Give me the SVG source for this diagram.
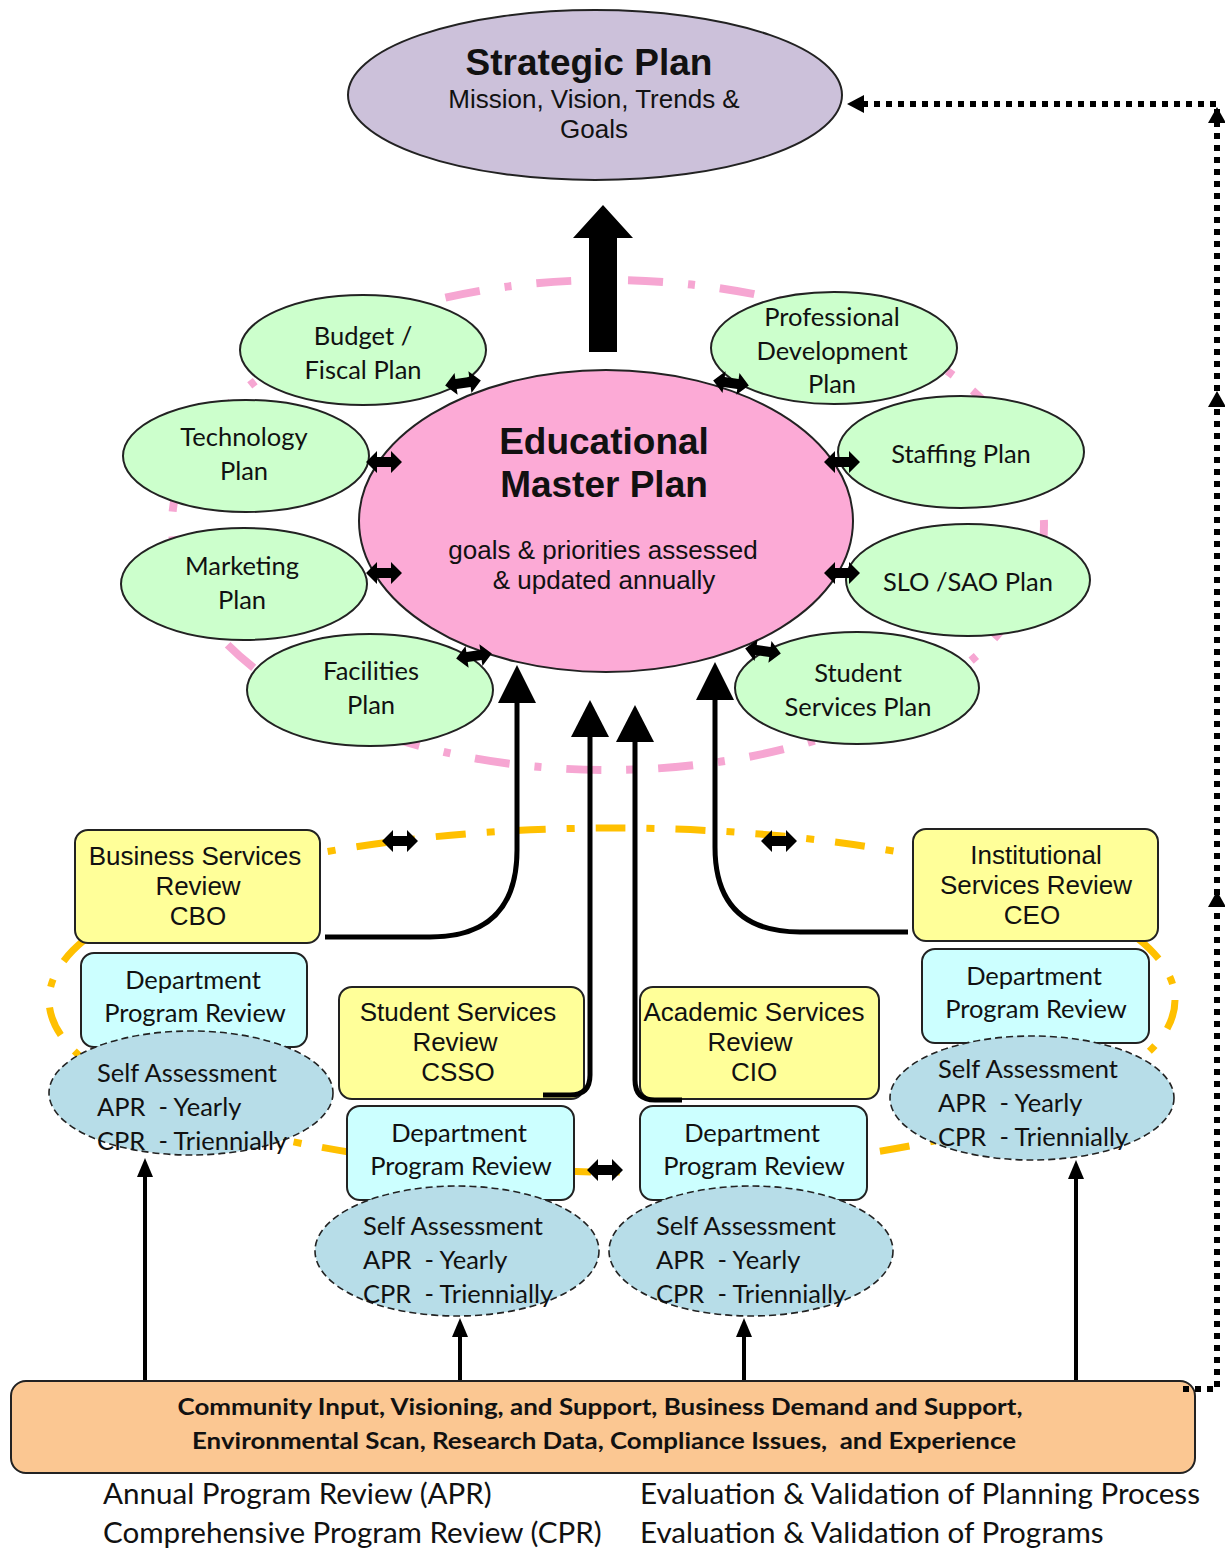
<svg xmlns="http://www.w3.org/2000/svg" width="1225" height="1550" viewBox="0 0 1225 1550">
<style>
.sans{font-family:"Liberation Sans",Arial,sans-serif;fill:#111}
.cal{font-family:Lato,"Open Sans",sans-serif;fill:#111}
.pre{white-space:pre}
.green{fill:#ccffcc;stroke:#222;stroke-width:2}
.yel{fill:#ffff99;stroke:#222;stroke-width:2}
.cyan{fill:#ccffff;stroke:#222;stroke-width:2}
.blue{fill:#b7dde8;stroke:#222;stroke-width:1.6;stroke-dasharray:7 4}
.thick{fill:none;stroke:#000;stroke-width:5}
.thin{fill:none;stroke:#000;stroke-width:4}
.dot{fill:none;stroke:#000;stroke-width:6;stroke-dasharray:6 6}
</style>
<defs>
<path id="dbl" d="M-18,0 L-7,-11 L-7,-5 L7,-5 L7,-11 L18,0 L7,11 L7,5 L-7,5 L-7,11 Z" fill="#000"/>
</defs>

<!-- background dashed rings -->
<g id="rings">
<ellipse cx="608" cy="525" rx="436" ry="245" fill="none" stroke="#f6a6d2" stroke-width="8" stroke-dasharray="35 25 7 25"/>
<ellipse cx="612" cy="1000" rx="563" ry="172" fill="none" stroke="#ffc000" stroke-width="7" stroke-dasharray="30 21 8 21"/>
</g>

<g id="strategic">
<ellipse cx="595" cy="95" rx="247" ry="85" fill="#ccc1da" stroke="#222" stroke-width="2"/>
<text class="sans" x="589" y="75" font-size="37" font-weight="bold" text-anchor="middle">Strategic Plan</text>
<text class="sans" x="594" y="108" font-size="26" text-anchor="middle">Mission, Vision, Trends &amp;</text>
<text class="sans" x="594" y="138" font-size="26" text-anchor="middle">Goals</text>
</g>

<g id="emp">
<ellipse cx="606" cy="521" rx="247" ry="151" fill="#fcaad6" stroke="#222" stroke-width="2"/>
<text class="sans" x="604" y="454" font-size="37" font-weight="bold" text-anchor="middle">Educational</text>
<text class="sans" x="604" y="497" font-size="37" font-weight="bold" text-anchor="middle">Master Plan</text>
<text class="sans" x="603" y="559" font-size="26" text-anchor="middle">goals &amp; priorities assessed</text>
<text class="sans" x="604" y="589" font-size="26" text-anchor="middle">&amp; updated annually</text>
</g>

<g id="budget"><ellipse class="green" cx="363" cy="350" rx="123" ry="55"/>
<text class="cal" x="363" y="345" font-size="25.5" text-anchor="middle">Budget /</text>
<text class="cal" x="363" y="379" font-size="25.5" text-anchor="middle">Fiscal Plan</text></g>
<g id="technology"><ellipse class="green" cx="246" cy="456" rx="123" ry="56"/>
<text class="cal" x="244" y="446" font-size="25.5" text-anchor="middle">Technology</text>
<text class="cal" x="244" y="480" font-size="25.5" text-anchor="middle">Plan</text></g>
<g id="marketing"><ellipse class="green" cx="244" cy="584" rx="123" ry="56"/>
<text class="cal" x="242" y="575" font-size="25.5" text-anchor="middle">Marketing</text>
<text class="cal" x="242" y="609" font-size="25.5" text-anchor="middle">Plan</text></g>
<g id="facilities"><ellipse class="green" cx="370" cy="690" rx="123" ry="56"/>
<text class="cal" x="371" y="680" font-size="25.5" text-anchor="middle">Facilities</text>
<text class="cal" x="371" y="714" font-size="25.5" text-anchor="middle">Plan</text></g>
<g id="profdev"><ellipse class="green" cx="834" cy="348" rx="123" ry="56"/>
<text class="cal" x="832" y="326" font-size="25.5" text-anchor="middle">Professional</text>
<text class="cal" x="832" y="360" font-size="25.5" text-anchor="middle">Development</text>
<text class="cal" x="832" y="393" font-size="25.5" text-anchor="middle">Plan</text></g>
<g id="staffing"><ellipse class="green" cx="961" cy="452" rx="123" ry="56"/>
<text class="cal" x="961" y="463" font-size="25.5" text-anchor="middle">Staffing Plan</text></g>
<g id="slo"><ellipse class="green" cx="968" cy="580" rx="122" ry="56"/>
<text class="cal" x="968" y="591" font-size="25.5" text-anchor="middle">SLO /SAO Plan</text></g>
<g id="studentplan"><ellipse class="green" cx="857" cy="688" rx="122" ry="56"/>
<text class="cal" x="858" y="682" font-size="25.5" text-anchor="middle">Student</text>
<text class="cal" x="858" y="716" font-size="25.5" text-anchor="middle">Services Plan</text></g>

<!-- review boxes -->
<g id="cbo"><rect class="yel" x="75" y="830" width="245" height="113" rx="13"/>
<text class="sans" x="195" y="865" font-size="26" text-anchor="middle">Business Services</text>
<text class="sans" x="198" y="895" font-size="26" text-anchor="middle">Review</text>
<text class="sans" x="198" y="925" font-size="26" text-anchor="middle">CBO</text></g>
<g id="ceo"><rect class="yel" x="913" y="829" width="245" height="112" rx="13"/>
<text class="sans" x="1036" y="864" font-size="26" text-anchor="middle">Institutional</text>
<text class="sans" x="1036" y="894" font-size="26" text-anchor="middle">Services Review</text>
<text class="sans" x="1032" y="924" font-size="26" text-anchor="middle">CEO</text></g>
<g id="csso"><rect class="yel" x="339" y="987" width="245" height="112" rx="13"/>
<text class="sans" x="458" y="1021" font-size="26" text-anchor="middle">Student Services</text>
<text class="sans" x="455" y="1051" font-size="26" text-anchor="middle">Review</text>
<text class="sans" x="458" y="1081" font-size="26" text-anchor="middle">CSSO</text></g>
<g id="cio"><rect class="yel" x="640" y="987" width="239" height="112" rx="13"/>
<text class="sans" x="754" y="1021" font-size="26" text-anchor="middle">Academic Services</text>
<text class="sans" x="750" y="1051" font-size="26" text-anchor="middle">Review</text>
<text class="sans" x="754" y="1081" font-size="26" text-anchor="middle">CIO</text></g>

<g id="dept1"><rect class="cyan" x="81" y="953" width="226" height="94" rx="13"/>
<text class="cal" x="193" y="989" font-size="25.5" text-anchor="middle">Department</text>
<text class="cal" x="195" y="1022" font-size="25.5" text-anchor="middle">Program Review</text></g>
<g id="dept4"><rect class="cyan" x="922" y="949" width="227" height="94" rx="13"/>
<text class="cal" x="1034" y="985" font-size="25.5" text-anchor="middle">Department</text>
<text class="cal" x="1036" y="1018" font-size="25.5" text-anchor="middle">Program Review</text></g>
<g id="dept2"><rect class="cyan" x="347" y="1106" width="227" height="94" rx="13"/>
<text class="cal" x="459" y="1142" font-size="25.5" text-anchor="middle">Department</text>
<text class="cal" x="461" y="1175" font-size="25.5" text-anchor="middle">Program Review</text></g>
<g id="dept3"><rect class="cyan" x="640" y="1106" width="227" height="94" rx="13"/>
<text class="cal" x="752" y="1142" font-size="25.5" text-anchor="middle">Department</text>
<text class="cal" x="754" y="1175" font-size="25.5" text-anchor="middle">Program Review</text></g>

<g id="self1"><ellipse class="blue" cx="191" cy="1093" rx="142" ry="62"/>
<text class="cal pre" font-size="25.5"><tspan x="97" y="1082">Self Assessment</tspan><tspan x="97" y="1116">APR  - Yearly</tspan><tspan x="97" y="1150">CPR  - Triennially</tspan></text></g>
<g id="self4"><ellipse class="blue" cx="1032" cy="1098" rx="142" ry="62"/>
<text class="cal pre" font-size="25.5"><tspan x="938" y="1078">Self Assessment</tspan><tspan x="938" y="1112">APR  - Yearly</tspan><tspan x="938" y="1146">CPR  - Triennially</tspan></text></g>
<g id="self2"><ellipse class="blue" cx="457" cy="1251" rx="142" ry="65"/>
<text class="cal pre" font-size="25.5"><tspan x="363" y="1235">Self Assessment</tspan><tspan x="363" y="1269">APR  - Yearly</tspan><tspan x="363" y="1303">CPR  - Triennially</tspan></text></g>
<g id="self3"><ellipse class="blue" cx="751" cy="1251" rx="142" ry="65"/>
<text class="cal pre" font-size="25.5"><tspan x="656" y="1235">Self Assessment</tspan><tspan x="656" y="1269">APR  - Yearly</tspan><tspan x="656" y="1303">CPR  - Triennially</tspan></text></g>

<g id="community"><rect x="11" y="1381" width="1184" height="92" rx="15" fill="#fbc792" stroke="#222" stroke-width="2"/>
<text class="cal" x="600" y="1415" font-size="22" font-weight="bold" text-anchor="middle" textLength="845" lengthAdjust="spacingAndGlyphs">Community Input, Visioning, and Support, Business Demand and Support,</text>
<text class="cal pre" x="604" y="1449" font-size="22" font-weight="bold" text-anchor="middle" textLength="824" lengthAdjust="spacingAndGlyphs">Environmental Scan, Research Data, Compliance Issues,  and Experience</text></g>

<g id="legend">
<text class="cal" x="103" y="1504" font-size="29.6">Annual Program Review (APR)</text>
<text class="cal" x="103" y="1543" font-size="29.6">Comprehensive Program Review (CPR)</text>
<text class="cal" x="640" y="1504" font-size="29.6">Evaluation &amp; Validation of Planning Process</text>
<text class="cal" x="640" y="1543" font-size="29.6">Evaluation &amp; Validation of Programs</text>
</g>

<g id="connectors">
<!-- big arrow to strategic plan -->
<polygon points="589,352 617,352 617,238 633,238 603,205 573,238 589,238" fill="#000"/>
<!-- curved arrows into EMP -->
<path class="thick" d="M325,937 H430 Q517,937 517,850 V700"/>
<polygon points="517,665 536,703 498,703" fill="#000"/>
<path class="thick" d="M543,1095 H570 Q590,1095 590,1075 V735" stroke-width="6"/>
<polygon points="590,700 609,737 571,737" fill="#000"/>
<path class="thick" d="M682,1100 H655 Q635,1100 635,1080 V740" stroke-width="6"/>
<polygon points="635,705 654,742 616,742" fill="#000"/>
<path class="thick" d="M908,932 H800 Q715,932 715,847 V697"/>
<polygon points="715,662 734,700 696,700" fill="#000"/>
<!-- thin up arrows from community box -->
<path class="thin" d="M145,1380 V1175"/><polygon points="145,1158 153,1177 137,1177" fill="#000"/>
<path class="thin" d="M460,1380 V1335"/><polygon points="460,1318 468,1337 452,1337" fill="#000"/>
<path class="thin" d="M744,1380 V1335"/><polygon points="744,1318 752,1337 736,1337" fill="#000"/>
<path class="thin" d="M1076,1380 V1177"/><polygon points="1076,1160 1084,1179 1068,1179" fill="#000"/>
<!-- double arrows -->
<use href="#dbl" transform="translate(463,383) rotate(-8)"/>
<use href="#dbl" transform="translate(384,462)"/>
<use href="#dbl" transform="translate(384,573)"/>
<use href="#dbl" transform="translate(474,656) rotate(-8)"/>
<use href="#dbl" transform="translate(731,383) rotate(8)"/>
<use href="#dbl" transform="translate(842,462)"/>
<use href="#dbl" transform="translate(842,573)"/>
<use href="#dbl" transform="translate(763,651) rotate(8)"/>
<use href="#dbl" transform="translate(400,841)"/>
<use href="#dbl" transform="translate(779,841)"/>
<use href="#dbl" transform="translate(605,1170)"/>
<!-- dotted feedback loop -->
<path class="dot" d="M1183,1389 H1217 V104 H862"/>
<polygon points="847,104 864,95 864,113" fill="#000"/>
<polygon points="1217,107 1226,123 1208,123" fill="#000"/>
<polygon points="1217,391 1226,407 1208,407" fill="#000"/>
<polygon points="1217,891 1226,907 1208,907" fill="#000"/>
</g>
</svg>
